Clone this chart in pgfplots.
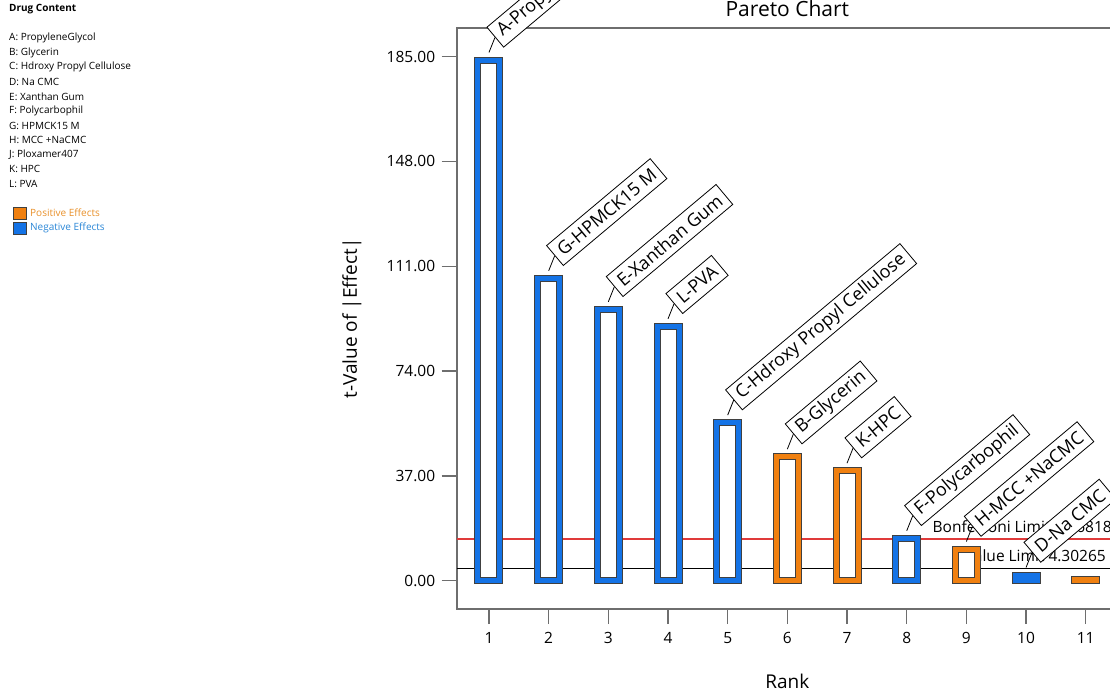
\documentclass[border=0pt]{standalone}
\usepackage{pgfplots}
\pgfplotsset{compat=1.18}
\usepackage{fontspec}
\setmainfont{Open Sans}
\definecolor{cblue}{HTML}{1473E6}
\definecolor{corange}{HTML}{F08010}
\definecolor{axgray}{HTML}{6E6E6E}
\definecolor{ltorange}{HTML}{E8902A}
\definecolor{ltblue}{HTML}{2A86D6}
\definecolor{limred}{HTML}{E03A3A}
\newcommand{\lbl}[1]{\tikz[baseline=0pt]{\path (0,0);
  \draw[overlay, black, line width=0.8pt] (0,-6.5pt) -- ++(6pt,15pt)
  node[overlay, anchor=west, rotate=40, draw=black, fill=white, line width=0.8pt,
       font=\fontsize{18}{21}\selectfont, inner xsep=6pt, inner ysep=0pt,
       minimum height=26pt]{#1};}}
\begin{document}
\begin{tikzpicture}[x=1pt,y=1pt]
\begin{scope}[every node/.style={anchor=west, inner sep=0pt, font=\fontsize{10}{12}\selectfont}]
\node[font=\fontsize{10}{12}\selectfont\bfseries] at (9,686.5) {Drug Content};
\node at (9,658) {A: PropyleneGlycol};
\node at (9,643.4) {B: Glycerin};
\node at (9,628.8) {C: Hdroxy Propyl Cellulose};
\node at (9,614.2) {D: Na CMC};
\node at (9,599.6) {E: Xanthan Gum};
\node at (9,585) {F: Polycarbophil};
\node at (9,570.4) {G: HPMCK15 M};
\node at (9,555.8) {H: MCC +NaCMC};
\node at (9,541.2) {J: Ploxamer407};
\node at (9,526.6) {K: HPC};
\node at (9,512) {L: PVA};
\node[text=ltorange] at (30,483) {Positive Effects};
\node[text=ltblue] at (30,468) {Negative Effects};
\end{scope}
\fill[corange, draw=black!75, line width=0.6pt] (13,477) rectangle (26,489);
\fill[cblue, draw=black!75, line width=0.6pt] (13,462) rectangle (26,474);

\begin{axis}[
  at={(456.7pt,87pt)}, anchor=south west,
  scale only axis, width=661.3pt, height=581pt,
  xmin=0.459, xmax=11.541, ymin=-10, ymax=195.13,
  axis line style={draw=axgray, line width=1.6pt},
  xtick={1,2,3,4,5,6,7,8,9,10,11}, ytick={0,37,74,111,148,185},
  xtick pos=bottom, ytick pos=left,
  tick align=outside, major tick length=15pt,
  tick style={draw=axgray, line width=1.4pt},
  ticklabel style={font=\fontsize{15.5}{18}\selectfont},
  yticklabel style={xshift=-3pt, /pgf/number format/.cd, fixed, fixed zerofill, precision=2, assume math mode=true},
  xticklabel style={yshift=-5pt, /pgf/number format/assume math mode=true},
  xlabel={Rank}, ylabel={t-Value of |Effect|},
  label style={font=\fontsize{19}{22}\selectfont},
  xlabel style={at={(axis description cs:0.5,-0.1239)}, anchor=center},
  ylabel style={at={(axis description cs:-0.1583,0.5)}, anchor=center},
  clip=false,
]
\node[anchor=base, inner sep=0pt, font=\fontsize{21}{24}\selectfont] at (rel axis cs:0.5,1) [yshift=11pt] {Pareto Chart};
\addplot[draw=black, line width=1.8pt, forget plot] coordinates {(0.459,4.30265) (11.541,4.30265)};
\addplot[draw=limred, line width=1.8pt, forget plot] coordinates {(0.459,14.6818) (11.541,14.6818)};
\node[anchor=base east, inner sep=0pt, font=\fontsize{15.5}{17}\selectfont] at (axis cs:11.541,14.6818) [xshift=-6pt, yshift=6.5pt] {Bonferroni Limit 14.6818};
\node[anchor=base east, inner sep=0pt, font=\fontsize{15.5}{17}\selectfont] at (axis cs:11.541,4.30265) [xshift=-12pt, yshift=7pt] {t-Value Limit 4.30265};
% negative effects
\addplot[ybar, bar width=22pt, bar shift=0pt, fill=white, draw=black!75, line width=1pt, double=cblue, double distance=5pt]
  coordinates {(1,183.8) (2,106.7) (3,95.75) (4,89.75) (5,55.75) (8,14.9) (10,1.94)};
% positive effects
\addplot[ybar, bar width=22pt, bar shift=0pt, fill=white, draw=black!75, line width=1pt, double=corange, double distance=5pt]
  coordinates {(6,43.74) (7,38.8) (9,11.1) (11,0.3)};
% labels
\addplot[draw=none, mark=none, point meta=explicit symbolic,
  nodes near coords={\lbl{\pgfplotspointmeta}}, nodes near coords align={center},
  every node near coord/.style={inner sep=0pt, anchor=center}]
  coordinates {(1,183.8) [A-PropyleneGlycol] (2,106.7) [G-HPMCK15 M] (3,95.75) [E-Xanthan Gum]
   (4,89.75) [L-PVA] (5,55.75) [C-Hdroxy Propyl Cellulose] (6,43.74) [B-Glycerin]
   (7,38.8) [K-HPC] (8,14.9) [F-Polycarbophil] (9,11.1) [H-MCC +NaCMC] (10,1.94) [D-Na CMC]};
\end{axis}
\pgfresetboundingbox
\path[use as bounding box] (0,0) rectangle (1110,696);
\end{tikzpicture}
\end{document}
